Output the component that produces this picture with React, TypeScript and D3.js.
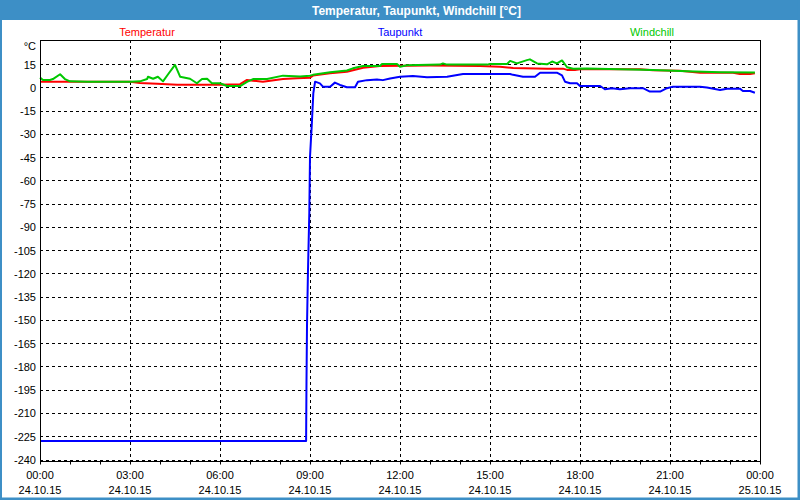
import React from "react";
import * as d3 from "d3";

// time in decimal hours since 24.10.15 00:00, value in °C
const temperatur: [number, number][] = [
  [0, 3.6], [3.0, 3.6], [3.33, 2.8], [3.9, 2.3], [4.57, 1.7], [6.0, 1.7], [6.67, 2.0],
  [6.9, 4.7], [7.1, 4.2], [7.43, 3.5], [8.1, 5.3], [8.57, 5.8], [9.0, 6.2], [9.1, 7.5],
  [9.67, 9.0], [10.23, 10.0], [10.77, 12.6], [11.33, 13.7], [13.0, 14.0], [14.67, 13.7],
  [15.33, 13.2], [15.77, 12.4], [16.9, 12.0], [17.43, 12.0], [17.57, 11.2], [17.83, 11.2],
  [18.0, 11.6], [20.0, 11.6], [20.43, 11.0], [21.33, 10.7], [21.67, 10.0], [22.0, 9.4],
  [23.1, 9.4], [23.33, 8.6], [23.67, 8.6], [23.83, 9.0],
];

const windchill: [number, number][] = [
  [0, 6.2], [0.1, 4.7], [0.33, 4.7], [0.43, 5.3], [0.67, 8.4], [0.83, 5.3], [1.0, 3.8],
  [1.57, 3.5], [3.0, 3.5], [3.33, 3.8], [3.57, 5.3], [3.6, 6.8], [3.77, 5.5], [3.93, 6.8],
  [4.1, 3.8], [4.27, 8.4], [4.5, 14.4], [4.67, 6.8], [5.0, 5.5], [5.23, 2.6], [5.4, 5.3],
  [5.57, 5.5], [5.73, 2.6], [6.0, 2.6], [6.23, 0.8], [6.67, 0.8], [6.9, 3.5], [7.1, 5.3],
  [7.57, 5.3], [8.1, 7.5], [8.67, 7.0], [9.0, 7.5], [9.1, 8.0], [9.67, 9.7], [10.23, 10.8],
  [10.43, 12.2], [10.77, 13.7], [11.33, 13.7], [11.4, 15.0], [11.9, 15.0], [12.0, 13.2],
  [12.23, 14.2], [13.33, 14.6], [13.43, 15.4], [13.57, 14.6], [14.9, 14.6], [15.0, 15.0],
  [15.57, 15.0], [15.67, 17.0], [15.9, 15.4], [16.23, 17.5], [16.33, 18.0], [16.57, 15.4],
  [16.9, 14.8], [17.07, 16.6], [17.23, 15.4], [17.4, 17.3], [17.57, 12.9], [17.77, 11.9],
  [18.23, 12.1], [19.33, 11.6], [20.43, 11.2], [21.57, 10.3], [22.67, 9.7], [23.83, 9.5],
];

const taupunkt: [number, number][] = [
  [0, -228], [8.87, -228], [8.883, -190], [8.9, -154], [8.933, -118], [8.977, -81],
  [9.0, -45], [9.057, -25], [9.11, -4], [9.17, 3.6], [9.33, 2.5], [9.43, 0.4], [9.67, 0.4],
  [9.83, 3.0], [10.0, 1.5], [10.23, 0], [10.5, 0], [10.6, 3.6], [10.9, 4.6], [11.23, 5.0],
  [11.43, 4.6], [11.67, 5.7], [12.0, 6.8], [12.43, 7.3], [12.9, 6.5], [13.57, 6.8],
  [14.1, 8.6], [15.67, 8.6], [15.77, 8.0], [16.1, 6.8], [16.5, 6.8], [16.67, 9.4],
  [17.23, 9.4], [17.4, 7.7], [17.5, 3.6], [17.67, 2.6], [17.9, 2.6], [18.0, 0.8],
  [18.67, 0.8], [18.83, -1.3], [19.07, -0.6], [19.33, -1.3], [19.67, -0.6], [20.1, -0.6],
  [20.33, -2.8], [20.67, -2.8], [20.9, -0.6], [21.1, 0.4], [22.0, 0.4], [22.23, -0.2],
  [22.67, -1.7], [22.9, -0.9], [23.33, -0.9], [23.43, -2.4], [23.67, -2.4], [23.83, -3.5],
];

const yTicks = d3.range(-240, 16, 15);
const xMajor = [0, 3, 6, 9, 12, 15, 18, 21, 24];
const xMinor = d3.range(0, 25, 1);
const timeLabels = ["00:00", "03:00", "06:00", "09:00", "12:00", "15:00", "18:00", "21:00", "00:00"];
const dateLabels = ["24.10.15", "24.10.15", "24.10.15", "24.10.15", "24.10.15", "24.10.15", "24.10.15", "24.10.15", "25.10.15"];

const title = "Temperatur, Taupunkt, Windchill [°C]";
const legend = [
  { name: "Temperatur", color: "#ff0000", x: 147 },
  { name: "Taupunkt", color: "#0000ff", x: 400 },
  { name: "Windchill", color: "#00c800", x: 652 },
];

const W = 800, H = 500;
const L = 40, R = 760, T = 40, B = 461.5;
const FRAME = "#3d8fc6";
const FONT = "'Liberation Sans', Arial, sans-serif";

export default function App() {
  const x = d3.scaleLinear().domain([0, 24]).range([L, R]);
  const y = d3.scaleLinear().domain([-240, 15]).range([459.5, 64]);
  const line = d3.line<[number, number]>().x((d) => x(d[0])).y((d) => y(d[1]));

  return (
    <svg width={W} height={H} style={{ position: "absolute", left: 0, top: 0, background: "#fff" }} fontFamily={FONT}>
      <rect x={0} y={0} width={W} height={H} fill="#ffffff" />
      {/* frame */}
      <rect x={0} y={0} width={W} height={20} fill={FRAME} />
      <rect x={0} y={0} width={2} height={H} fill={FRAME} />
      <rect x={W - 2.5} y={0} width={2.5} height={H} fill={FRAME} />
      <rect x={0} y={H - 2.5} width={W} height={2.5} fill={FRAME} />
      <text x={312} y={15} fill="#fff" fontSize={12} fontWeight="bold">{title}</text>

      {legend.map((l) => (
        <text key={l.name} x={l.x} y={36} fill={l.color} fontSize={11} textAnchor="middle">{l.name}</text>
      ))}

      {/* grid */}
      {yTicks.map((t) => (
        <line key={"gy" + t} x1={L} x2={R} y1={Math.round(y(t)) + 0.5} y2={Math.round(y(t)) + 0.5}
          stroke="#000" strokeDasharray="3,3" strokeWidth={1} />
      ))}
      {xMajor.slice(1, -1).map((t) => (
        <line key={"gx" + t} x1={x(t) + 0.5} x2={x(t) + 0.5} y1={T} y2={B}
          stroke="#000" strokeDasharray="3,3" strokeWidth={1} />
      ))}

      {/* y labels */}
      <text x={36} y={50} fontSize={11} textAnchor="end" fill="#000">°C</text>
      {yTicks.map((t) => (
        <text key={"ly" + t} x={36} y={y(t) + 4.5} fontSize={11} textAnchor="end" fill="#000">{t}</text>
      ))}

      {/* x ticks + labels */}
      {xMinor.map((t) => (
        <line key={"tx" + t} x1={x(t) + 0.5} x2={x(t) + 0.5} y1={B} y2={B + 3} stroke="#000" />
      ))}
      {xMajor.map((t, i) => (
        <g key={"lx" + t}>
          <text x={x(t)} y={478.5} fontSize={11} textAnchor="middle" fill="#000">{timeLabels[i]}</text>
          <text x={x(t)} y={494} fontSize={11} textAnchor="middle" fill="#000">{dateLabels[i]}</text>
        </g>
      ))}

      {/* series */}
      <path d={line(temperatur) || ""} fill="none" stroke="#ff0000" strokeWidth={2} strokeLinejoin="round" />
      <path d={line(windchill) || ""} fill="none" stroke="#00c800" strokeWidth={2} strokeLinejoin="round" />
      <path d={line(taupunkt) || ""} fill="none" stroke="#0000ff" strokeWidth={2} strokeLinejoin="round" />

      {/* plot border */}
      <rect x={L + 0.5} y={T + 0.5} width={R - L} height={B - T - 0.5} fill="none" stroke="#000" strokeWidth={1} />
    </svg>
  );
}
